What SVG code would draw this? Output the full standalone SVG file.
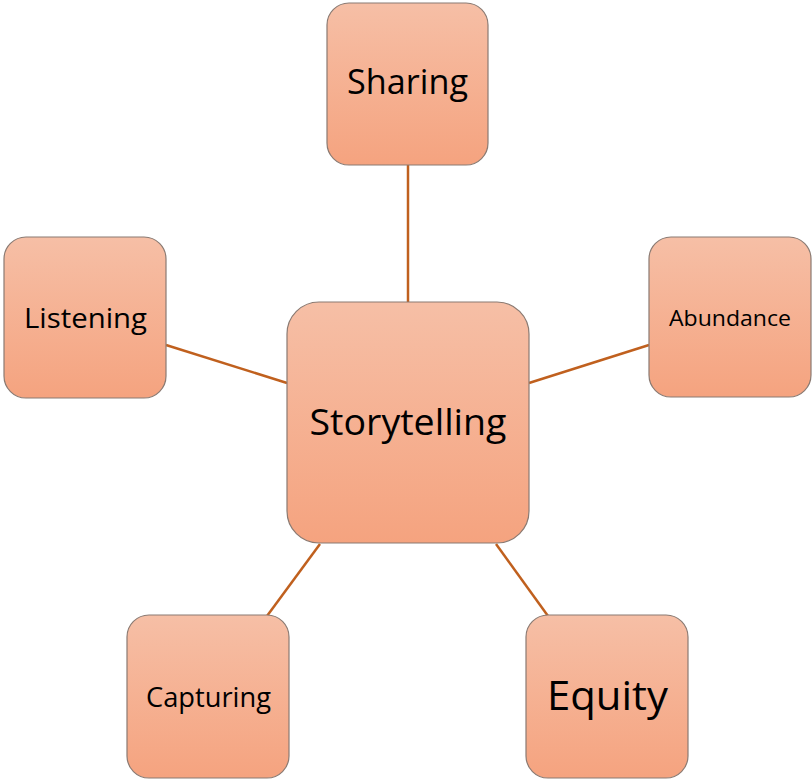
<svg xmlns="http://www.w3.org/2000/svg" width="812" height="781" viewBox="0 0 812 781">
<defs>
<linearGradient id="g" x1="0" y1="0" x2="0" y2="1">
<stop offset="0" stop-color="#F6BFA6"/>
<stop offset="1" stop-color="#F5A37F"/>
</linearGradient>
<style>
.box{fill:url(#g);stroke:#8a7a72;stroke-width:1.2}
.lbl{font-family:"Open Sans","Noto Sans",sans-serif;fill:#000;text-anchor:middle}
.con{stroke:#C0601E;stroke-width:2.5;fill:none}
</style>
</defs>
<rect width="812" height="781" fill="#fff"/>
<g id="connectors">
<line class="con" x1="408" y1="165" x2="408" y2="302"/>
<line class="con" x1="166" y1="345" x2="287" y2="383"/>
<line class="con" x1="529" y1="383" x2="649" y2="345"/>
<line class="con" x1="320" y1="544" x2="267" y2="616"/>
<line class="con" x1="496" y1="544" x2="548" y2="616"/>
</g>
<g id="storytelling">
<rect class="box" x="287" y="302" width="242" height="241" rx="32"/>
<text class="lbl" x="408" y="435" font-size="37" textLength="197" lengthAdjust="spacingAndGlyphs">Storytelling</text>
</g>
<g id="sharing">
<rect class="box" x="327" y="3" width="161" height="162" rx="22"/>
<text class="lbl" x="407.5" y="94" font-size="35" textLength="121" lengthAdjust="spacingAndGlyphs">Sharing</text>
</g>
<g id="listening">
<rect class="box" x="4" y="237" width="162" height="161" rx="22"/>
<text class="lbl" x="85.5" y="328" font-size="28" textLength="123" lengthAdjust="spacingAndGlyphs">Listening</text>
</g>
<g id="abundance">
<rect class="box" x="649" y="237" width="162" height="160" rx="22"/>
<text class="lbl" x="730" y="326" font-size="22.5" textLength="122" lengthAdjust="spacingAndGlyphs">Abundance</text>
</g>
<g id="capturing">
<rect class="box" x="127" y="615" width="162" height="163" rx="22"/>
<text class="lbl" x="208.5" y="707" font-size="28" textLength="125" lengthAdjust="spacingAndGlyphs">Capturing</text>
</g>
<g id="equity">
<rect class="box" x="526" y="615" width="162" height="163" rx="22"/>
<text class="lbl" x="607.5" y="710" font-size="41" textLength="121" lengthAdjust="spacingAndGlyphs">Equity</text>
</g>
</svg>
